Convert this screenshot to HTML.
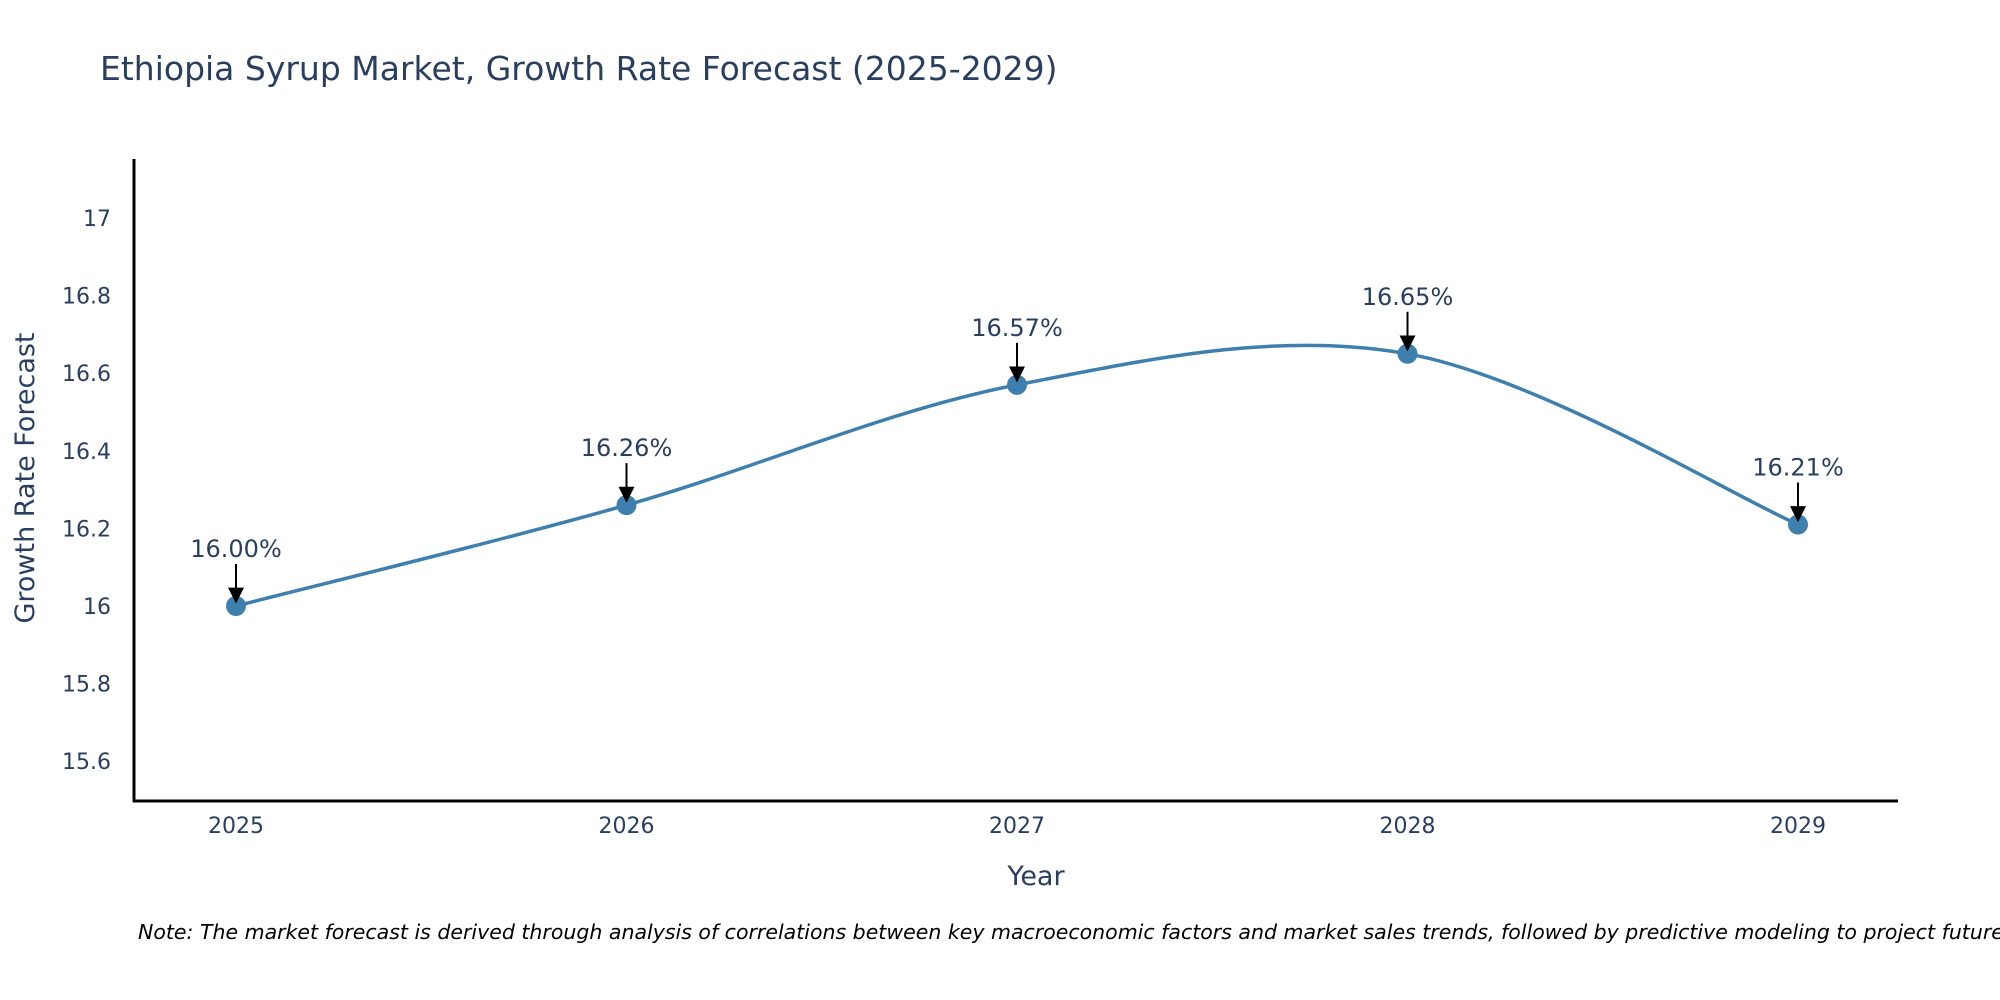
<!DOCTYPE html>
<html><head><meta charset="utf-8"><style>
html,body{margin:0;padding:0;background:#fff}
svg{display:block;font-family:"DejaVu Sans","Liberation Sans",sans-serif}
</style></head><body>
<svg width="2000" height="1000" viewBox="0 0 2000 1000" id="chart">
<text x="100" y="80" font-size="33" fill="#2a3f5f">Ethiopia Syrup Market, Growth Rate Forecast (2025-2029)</text>
<g id="yticks"></g>
<g id="xticks"></g>
<line x1="134" y1="159" x2="134" y2="802" stroke="#000" stroke-width="3"/>
<line x1="133" y1="801" x2="1898" y2="801" stroke="#000" stroke-width="3"/>
<path id="line" fill="none" stroke="#3f7fae" stroke-width="3.5"/>
<g id="points"></g>
<g id="annots"></g>
<text x="1036" y="885" font-size="27" fill="#2a3f5f" text-anchor="middle">Year</text>
<text x="0" y="0" font-size="27" fill="#2a3f5f" text-anchor="middle" transform="translate(34,478) rotate(-90)">Growth Rate Forecast</text>
<text x="138" y="939" font-size="20.5" font-style="italic" fill="#000">Note: The market forecast is derived through analysis of correlations between key macroeconomic factors and market sales trends, followed by predictive modeling to project future sales.</text>
<defs><marker id="ah" viewBox="0 0 10 10" refX="9" refY="5" markerWidth="7" markerHeight="7" markerUnits="userSpaceOnUse" orient="auto"><path d="M0,0L10,5L0,10z" fill="#000"/></marker>
<marker id="ah2" viewBox="0 0 10 10" refX="9" refY="5" markerWidth="8" markerHeight="8" orient="auto"><path d="M0,0L10,5L0,10z" fill="#000"/></marker></defs>
</svg>
<script>
const years = [2025, 2026, 2027, 2028, 2029];
const values = [16.00, 16.26, 16.57, 16.65, 16.21];
const labels = ["16.00%", "16.26%", "16.57%", "16.65%", "16.21%"];
const yTicks = [15.6, 15.8, 16, 16.2, 16.4, 16.6, 16.8, 17];
const yTickLabels = ["15.6", "15.8", "16", "16.2", "16.4", "16.6", "16.8", "17"];

const NS = "http://www.w3.org/2000/svg";
function xs(v){ return 236 + (v - 2025) * 390.5; }
function ys(v){ return 606 - (v - 16) * 388; }
function mk(tag, attrs, parent, txt){
  const e = document.createElementNS(NS, tag);
  for (const k in attrs) e.setAttribute(k, attrs[k]);
  if (txt !== undefined) e.textContent = txt;
  parent.appendChild(e); return e;
}
const yt = document.getElementById('yticks');
yTicks.forEach((t, i) => {
  const e = mk('text', {x: 111, y: ys(t) + 8, 'font-size': 22, fill: '#2a3f5f', 'text-anchor': 'end'}, yt, yTickLabels[i]);
  
  
});
const xt = document.getElementById('xticks');
years.forEach(y => {
  const e = mk('text', {x: xs(y), y: 833, 'font-size': 22, fill: '#2a3f5f', 'text-anchor': 'middle'}, xt, String(y));
  
  
});
const P = years.map((y, i) => [xs(y), ys(values[i])]);
let d = `M${P[0][0]},${P[0][1]}`;
const s = 0.5;
for (let i = 0; i < P.length - 1; i++) {
  const p0 = P[i - 1] || P[i], p1 = P[i], p2 = P[i + 1], p3 = P[i + 2] || P[i + 1];
  const c1 = [p1[0] + (p2[0] - p0[0]) * s / 3, p1[1] + (p2[1] - p0[1]) * s / 3];
  const c2 = [p2[0] - (p3[0] - p1[0]) * s / 3, p2[1] - (p3[1] - p1[1]) * s / 3];
  d += ` C${c1[0]},${c1[1]} ${c2[0]},${c2[1]} ${p2[0]},${p2[1]}`;
}
document.getElementById('line').setAttribute('d', d);
const pts = document.getElementById('points');
const an = document.getElementById('annots');
P.forEach((p, i) => {
  const c = mk('circle', {cx: p[0], cy: p[1], r: 10, fill: '#3f7fae'}, pts);
  
  
  const l = mk('line', {x1: p[0], y1: p[1] - 42, x2: p[0], y2: p[1] - 4, stroke: '#000', 'stroke-width': 2, 'marker-end': 'url(#ah2)'}, an);
  
  
  const t = mk('text', {x: p[0], y: p[1] - 49, 'font-size': 24, fill: '#2a3f5f', 'text-anchor': 'middle'}, an, labels[i]);
  
  
});
</script>
</body></html>
